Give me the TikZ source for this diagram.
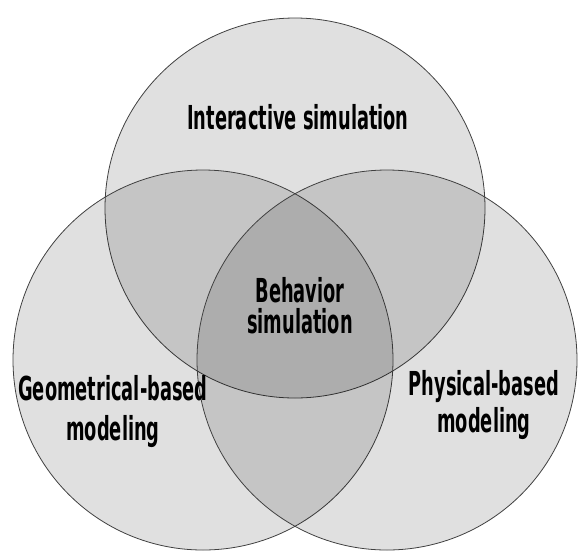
\documentclass[tikz,border=0pt]{standalone}
\usepackage{fontspec}
\newfontfamily\vennfont{DejaVu Sans Condensed}
\newcommand{\narrowtxt}[1]{\scalebox{0.6}[1]{#1}}
\tikzset{
  venn/.style={circle, draw=black!75, line width=0.8pt, fill=black,
    fill opacity=0.12, minimum size=380pt, inner sep=0pt},
  vennlabel/.style={font=\vennfont\bfseries\fontsize{33}{#1}\selectfont,
    align=center, text=black, inner sep=0pt},
  vennlabel/.default=31
}
\begin{document}
\begin{tikzpicture}[x=1pt,y=-1pt]

    \useasboundingbox (0,0) rectangle (580,550);

    % the three sets
    \node[venn] (inter) at (295,208) {};
    \node[venn] (geom) at (203,360) {};
    \node[venn] (phys) at (387,360) {};

    \node[vennlabel] (interlbl) at (298,117) {\narrowtxt{Interactive simulation}};
    \node[vennlabel] (behlbl) at (300,306) {\narrowtxt{Behavior}\\\narrowtxt{simulation}};
    \node[vennlabel=40] (geomlbl) at (113,412) {\narrowtxt{Geometrical-based}\\\narrowtxt{modeling}};
    \node[vennlabel=37] (physlbl) at (484,405) {\narrowtxt{Physical-based}\\\narrowtxt{modeling}};

\end{tikzpicture}
\end{document}
